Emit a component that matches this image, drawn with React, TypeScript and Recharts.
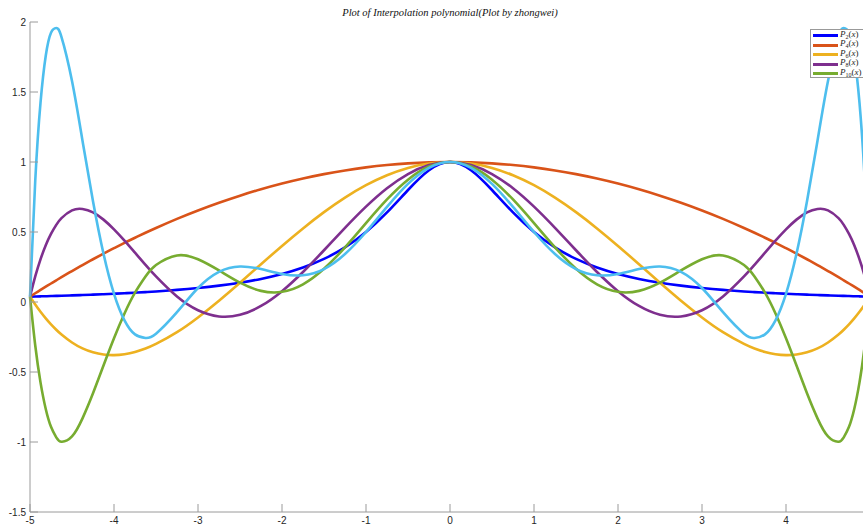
import { Line, LineChart, XAxis, YAxis } from "recharts";

// sample points on [-5, 5], denser near the ends where the high-order curves swing
const xs = [
  -5, -4.9375, -4.875, -4.8125, -4.75, -4.6875, -4.625, -4.5, -4.375, -4.25, -4.125, -4, -3.875, -3.75, -3.625,
  -3.5, -3.25, -3, -2.75, -2.5, -2.25, -2, -1.75, -1.5, -1.25, -1, -0.75, -0.5, -0.25, 0, 0.25, 0.5, 0.75, 1, 1.25,
  1.5, 1.75, 2, 2.25, 2.5, 2.75, 3, 3.25, 3.5, 3.625, 3.75, 3.875, 4, 4.125, 4.25, 4.375, 4.5, 4.625, 4.6875, 4.75,
  4.8125, 4.875, 4.9375, 5,
];

const runge = [
  0.0385, 0.0394, 0.0404, 0.0414, 0.0424, 0.0435, 0.0447, 0.0471, 0.0497, 0.0525, 0.0555, 0.0588, 0.0624, 0.0664,
  0.0707, 0.0755, 0.0865, 0.1, 0.1168, 0.1379, 0.1649, 0.2, 0.2462, 0.3077, 0.3902, 0.5, 0.64, 0.8, 0.9412, 1,
  0.9412, 0.8, 0.64, 0.5, 0.3902, 0.3077, 0.2462, 0.2, 0.1649, 0.1379, 0.1168, 0.1, 0.0865, 0.0755, 0.0707, 0.0664,
  0.0624, 0.0588, 0.0555, 0.0525, 0.0497, 0.0471, 0.0447, 0.0435, 0.0424, 0.0414, 0.0404, 0.0394, 0.0385,
];

const p2 = [
  0.0385, 0.0624, 0.0859, 0.1092, 0.1322, 0.1549, 0.1773, 0.2212, 0.2638, 0.3053, 0.3456, 0.3846, 0.4225, 0.4591,
  0.4946, 0.5288, 0.5938, 0.6538, 0.7091, 0.7596, 0.8053, 0.8462, 0.8822, 0.9135, 0.9399, 0.9615, 0.9784, 0.9904,
  0.9976, 1, 0.9976, 0.9904, 0.9784, 0.9615, 0.9399, 0.9135, 0.8822, 0.8462, 0.8053, 0.7596, 0.7091, 0.6538, 0.5938,
  0.5288, 0.4946, 0.4591, 0.4225, 0.3846, 0.3456, 0.3053, 0.2638, 0.2212, 0.1773, 0.1549, 0.1322, 0.1092, 0.0859,
  0.0624, 0.0385,
];

const p4 = [
  0.0385, -0.018, -0.0697, -0.1168, -0.1595, -0.198, -0.2323, -0.2891, -0.3311, -0.3595, -0.3752, -0.3793, -0.3729,
  -0.3568, -0.3321, -0.2997, -0.2152, -0.1101, 0.0096, 0.1379, 0.2698, 0.4005, 0.5258, 0.6419, 0.7456, 0.8342, 0.9054,
  0.9576, 0.9893, 1, 0.9893, 0.9576, 0.9054, 0.8342, 0.7456, 0.6419, 0.5258, 0.4005, 0.2698, 0.1379, 0.0096, -0.1101,
  -0.2152, -0.2997, -0.3321, -0.3568, -0.3729, -0.3793, -0.3752, -0.3595, -0.3311, -0.2891, -0.2323, -0.198, -0.1595,
  -0.1168, -0.0697, -0.018, 0.0385,
];

const p6 = [
  0.0385, 0.1831, 0.3048, 0.4055, 0.487, 0.551, 0.5993, 0.6546, 0.6647, 0.6396, 0.5884, 0.5191, 0.4384, 0.3523,
  0.2656, 0.1824, 0.0391, -0.059, -0.103, -0.0914, -0.0285, 0.0773, 0.2143, 0.3696, 0.5297, 0.6813, 0.8128, 0.9142,
  0.9782, 1, 0.9782, 0.9142, 0.8128, 0.6813, 0.5297, 0.3696, 0.2143, 0.0773, -0.0285, -0.0914, -0.103, -0.059, 0.0391,
  0.1824, 0.2656, 0.3523, 0.4384, 0.5191, 0.5884, 0.6396, 0.6647, 0.6546, 0.5993, 0.551, 0.487, 0.4055, 0.3048,
  0.1831, 0.0385,
];

const p8 = [
  0.0385, -0.3105, -0.574, -0.7641, -0.8917, -0.9667, -0.998, -0.9601, -0.831, -0.6519, -0.4537, -0.2587, -0.0822,
  0.0664, 0.1821, 0.2638, 0.3327, 0.3049, 0.2251, 0.1379, 0.0794, 0.0726, 0.1266, 0.2374, 0.3902, 0.5636, 0.7328,
  0.874, 0.9674, 1, 0.9674, 0.874, 0.7328, 0.5636, 0.3902, 0.2374, 0.1266, 0.0726, 0.0794, 0.1379, 0.2251, 0.3049,
  0.3327, 0.2638, 0.1821, 0.0664, -0.0822, -0.2587, -0.4537, -0.6519, -0.831, -0.9601, -0.998, -0.9667, -0.8917,
  -0.7641, -0.574, -0.3105, 0.0385,
];

const p10 = [
  0.0385, 0.8681, 1.4231, 1.7592, 1.9236, 1.9568, 1.8924, 1.5787, 1.1517, 0.7195, 0.345, 0.0588, -0.1312, -0.2315,
  -0.2569, -0.2262, -0.0726, 0.1, 0.2156, 0.2538, 0.235, 0.2, 0.1906, 0.2353, 0.3426, 0.5, 0.679, 0.8434, 0.9586, 1,
  0.9586, 0.8434, 0.679, 0.5, 0.3426, 0.2353, 0.1906, 0.2, 0.235, 0.2538, 0.2156, 0.1, -0.0726, -0.2262, -0.2569,
  -0.2315, -0.1312, 0.0588, 0.345, 0.7195, 1.1517, 1.5787, 1.8924, 1.9568, 1.9236, 1.7592, 1.4231, 0.8681, 0.0385,
];

const xTicks = [-5, -4, -3, -2, -1, 0, 1, 2, 3, 4, 5];
const yTicks = [-1.5, -1, -0.5, 0, 0.5, 1, 1.5, 2];
const legendSubs = ["2", "4", "6", "8", "10"];

const series = [
  { key: "f", color: "#0000ff" },
  { key: "p2", color: "#d95319" },
  { key: "p4", color: "#edb120" },
  { key: "p6", color: "#7e2f8e" },
  { key: "p8", color: "#77ac30" },
  { key: "p10", color: "#4dbeee" },
];

const data = xs.map((x, i) => ({
  x,
  f: runge[i],
  p2: p2[i],
  p4: p4[i],
  p6: p6[i],
  p8: p8[i],
  p10: p10[i],
}));

const AXIS = "#9a9a9a";
const TEXT = "#262626";
const tickFont = "'Liberation Sans', Arial, sans-serif";

function BottomTick({ x, y, payload }: any) {
  // the x = 5 end of the axis falls just past the window edge, so only its tick mark is drawn
  return (
    <g>
      <line x1={x} x2={x} y1={y} y2={y - 8} stroke={AXIS} />
      {payload.value < 5 && (
        <text x={x} y={y + 12} textAnchor="middle" fontSize={10} fill={TEXT} fontFamily={tickFont}>
          {payload.value}
        </text>
      )}
    </g>
  );
}

function TopTick({ x, y }: any) {
  return <line x1={x} x2={x} y1={y} y2={y + 8} stroke={AXIS} />;
}

function LeftTick({ x, y, payload }: any) {
  return (
    <g>
      <line x1={x} x2={x + 8} y1={y} y2={y} stroke={AXIS} />
      <text x={x - 4} y={y + 3.5} textAnchor="end" fontSize={10} fill={TEXT} fontFamily={tickFont}>
        {payload.value}
      </text>
    </g>
  );
}

export default function App() {
  return (
    <div
      style={{
        position: "fixed",
        left: 0,
        top: 0,
        width: 863,
        height: 527,
        overflow: "hidden",
        background: "#fff",
      }}
    >
      <LineChart width={900} height={527} data={data} margin={{ top: 22, right: 30, bottom: 0, left: 0 }}>
        <XAxis
          dataKey="x"
          type="number"
          domain={[-5, 5]}
          ticks={xTicks}
          height={15}
          tickSize={0}
          tickMargin={0}
          tickLine={false}
          axisLine={{ stroke: AXIS }}
          tick={<BottomTick />}
          interval={0}
        />
        <XAxis
          xAxisId="top"
          orientation="top"
          dataKey="x"
          type="number"
          domain={[-5, 5]}
          ticks={xTicks}
          height={0}
          tickSize={0}
          tickMargin={0}
          tickLine={false}
          axisLine={{ stroke: AXIS }}
          tick={<TopTick />}
          interval={0}
        />
        <YAxis
          type="number"
          domain={[-1.5, 2]}
          ticks={yTicks}
          width={30}
          tickSize={0}
          tickMargin={0}
          tickLine={false}
          axisLine={{ stroke: AXIS }}
          tick={<LeftTick />}
          interval={0}
        />
        {series.map((s) => (
          <Line
            key={s.key}
            type="natural"
            dataKey={s.key}
            stroke={s.color}
            strokeWidth={2.6}
            dot={false}
            isAnimationActive={false}
          />
        ))}
      </LineChart>
      <div
        style={{
          position: "absolute",
          left: 0,
          width: 900,
          top: 7,
          textAlign: "center",
          fontFamily: "'Liberation Serif', 'Times New Roman', serif",
          fontStyle: "italic",
          fontSize: 10.5,
          color: "#111",
          lineHeight: "12px",
        }}
      >
        Plot of Interpolation polynomial(Plot by zhongwei)
      </div>
      <div
        style={{
          position: "absolute",
          left: 810,
          top: 29,
          width: 70,
          height: 49,
          boxSizing: "border-box",
          border: "1px solid #999",
          background: "#fff",
          padding: "1px 0 0 2px",
        }}
      >
        {legendSubs.map((sub, i) => (
          <div key={sub} style={{ display: "flex", alignItems: "center", height: 9.5 }}>
            <div style={{ width: 25, height: 3, background: series[i].color, marginRight: 2 }} />
            <span
              style={{
                fontFamily: "'Liberation Serif', 'Times New Roman', serif",
                fontSize: 9,
                color: TEXT,
                lineHeight: "9px",
                whiteSpace: "nowrap",
              }}
            >
              <i>P</i>
              <sub style={{ fontSize: 6, verticalAlign: "-2px" }}>{sub}</sub>(<i>x</i>)
            </span>
          </div>
        ))}
      </div>
    </div>
  );
}
